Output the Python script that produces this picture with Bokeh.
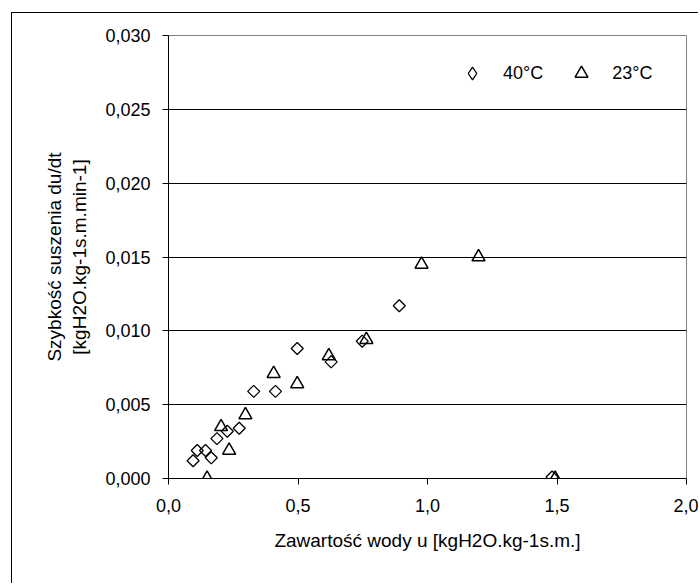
import math
from bokeh.plotting import figure
from bokeh.models import (FixedTicker, Legend, LegendItem,
                          CustomJSTickFormatter, Range1d)
from bokeh.embed import file_html
from bokeh.resources import INLINE

# ---- data ----
u_40 = [0.095, 0.111, 0.143, 0.165, 0.187, 0.227, 0.273, 0.329, 0.413,
        0.497, 0.628, 0.748, 0.891, 1.481]
rate_40 = [0.0012, 0.0019, 0.0019, 0.0014, 0.0027, 0.0032, 0.0034, 0.0059,
           0.0059, 0.0088, 0.0079, 0.0093, 0.0117, 0.0001]

u_23 = [0.149, 0.203, 0.234, 0.297, 0.406, 0.497, 0.619, 0.764, 0.977,
        1.197, 1.493]
rate_23 = [0.0000, 0.0035, 0.0019, 0.0043, 0.0071, 0.0064, 0.0083, 0.0094,
           0.0145, 0.0150, 0.0000]

series_labels = ["40°C", "23°C"]

x_ticks = [0.0, 0.5, 1.0, 1.5, 2.0]
x_tick_labels = ["0,0", "0,5", "1,0", "1,5", "2,0"]
y_ticks = [0.000, 0.005, 0.010, 0.015, 0.020, 0.025, 0.030]
y_tick_labels = ["0,000", "0,005", "0,010", "0,015", "0,020", "0,025", "0,030"]
y_grid_ticks = [0.005, 0.010, 0.015, 0.020, 0.025]

x_title = "Zawartość wody u [kgH2O.kg-1s.m.]"
y_title = "Szybkość suszenia du/dt\n[kgH2O.kg-1s.m.min-1]"

FONT = "Liberation Sans"

# canvas starts at (12, 13) on the page (css margin + 1px chart-area border)
W, H = 687, 571
ML, MT = 156, 22
FW, FH = 518, 443
MR, MB = W - ML - FW, H - MT - FH

p = figure(width=W, height=H,
           min_border_left=ML, min_border_right=MR,
           min_border_top=MT, min_border_bottom=MB,
           x_range=Range1d(x_ticks[0], x_ticks[-1]),
           y_range=Range1d(y_ticks[0], y_ticks[-1]),
           output_backend="svg", toolbar_location=None,
           styles={"margin-left": "11px", "margin-top": "12px",
                   "border-left": "1px solid black",
                   "border-top": "1px solid black"})

p.background_fill_color = "white"
p.border_fill_color = "white"
p.outline_line_color = "#808080"
p.outline_line_width = 1

fmt_code = """
const i = tvals.findIndex(t => Math.abs(t - tick) < 1e-9);
return i >= 0 ? tlabels[i] : '';
"""
p.xaxis.ticker = FixedTicker(ticks=x_ticks)
p.xaxis.formatter = CustomJSTickFormatter(args=dict(tvals=x_ticks, tlabels=x_tick_labels), code=fmt_code)
p.yaxis.ticker = FixedTicker(ticks=y_ticks)
p.yaxis.formatter = CustomJSTickFormatter(args=dict(tvals=y_ticks, tlabels=y_tick_labels), code=fmt_code)

for ax in (p.xaxis[0], p.yaxis[0]):
    ax.axis_line_color = "black"
    ax.axis_line_width = 1
    ax.major_tick_line_color = "black"
    ax.major_tick_out = 6
    ax.major_tick_in = 0
    ax.minor_tick_line_color = None
    ax.major_label_text_font = FONT
    ax.major_label_text_font_size = "18px"
    ax.major_label_text_color = "black"
    ax.axis_label_text_font = FONT
    ax.axis_label_text_font_size = "19px"
    ax.axis_label_text_font_style = "normal"
    ax.axis_label_text_color = "black"

p.xaxis.axis_label = x_title
p.xaxis.major_label_standoff = 14
p.xaxis.axis_label_standoff = 15
p.yaxis.axis_label = y_title
p.yaxis.major_label_standoff = 12
p.yaxis.axis_label_standoff = 12

p.xgrid.visible = False
p.ygrid.ticker = FixedTicker(ticks=y_grid_ticks)
p.ygrid.grid_line_color = "black"
p.ygrid.grid_line_width = 1

r40 = p.scatter(u_40, rate_40, marker="square", angle=math.pi / 4, size=8.5,
                fill_color=None, line_color="black", line_width=1.3)
r23 = p.scatter(u_23, rate_23, marker="triangle", size=13,
                fill_color=None, line_color="black", line_width=1.5)
# hidden proxy renderer that only supplies the diamond symbol for the legend
r40_key = p.scatter(u_40, rate_40, marker="diamond", size=12,
                    fill_color=None, line_color="black", line_width=1.3,
                    visible=False)

legend = Legend(items=[LegendItem(label=series_labels[0], renderers=[r40_key]),
                       LegendItem(label=series_labels[1], renderers=[r23])],
                orientation="horizontal", location=(288, 389),
                glyph_width=32, glyph_height=32, label_standoff=15, spacing=22,
                padding=0, margin=0, border_line_alpha=0, background_fill_alpha=0,
                inactive_fill_alpha=0,
                label_text_font=FONT, label_text_font_size="18px",
                label_text_color="black")
p.add_layout(legend, "center")

open("out.html", "w").write(file_html(p, INLINE))
